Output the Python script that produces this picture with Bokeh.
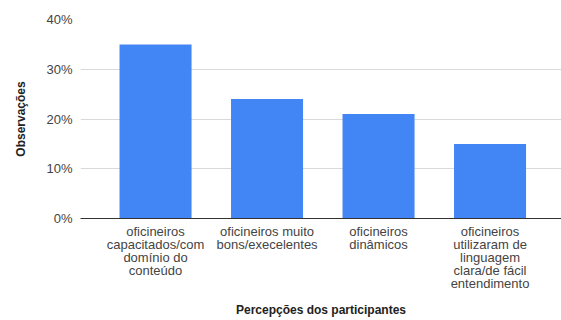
from bokeh.plotting import figure
from bokeh.models import Range1d, FixedTicker, NumeralTickFormatter, ColumnDataSource
from bokeh.embed import file_html
from bokeh.resources import INLINE

# Participant perceptions and share of observations
categories = [
    "oficineiros\ncapacitados/com\ndomínio do\nconteúdo",
    "oficineiros muito\nbons/execelentes",
    "oficineiros\ndinâmicos",
    "oficineiros\nutilizaram de\nlinguagem\nclara/de fácil\nentendimento",
]
shares = [0.35, 0.24, 0.21, 0.15]
y_ticks = [0.0, 0.1, 0.2, 0.3, 0.4]

positions = list(range(1, len(categories) + 1))
source = ColumnDataSource(data=dict(x=positions, top=shares))

FONT = "Liberation Sans"

p = figure(
    width=561, height=320,
    output_backend="svg", toolbar_location=None,
    x_range=Range1d(0.327, 4.641), y_range=Range1d(0, 0.4),
    min_border_left=80, min_border_right=0,
    min_border_top=19, min_border_bottom=102,
)
p.outline_line_color = None
p.background_fill_color = "white"
p.border_fill_color = "white"

p.vbar(x="x", top="top", bottom=0, width=0.646, source=source,
       fill_color="#4285F4", line_color=None)

# y axis
p.yaxis.ticker = FixedTicker(ticks=y_ticks)
p.yaxis.formatter = NumeralTickFormatter(format="0%")
p.yaxis.axis_line_color = None
p.yaxis.major_tick_line_color = None
p.yaxis.minor_tick_line_color = None
p.yaxis.major_tick_out = 0
p.yaxis.major_tick_in = 0
p.yaxis.major_label_standoff = 8
p.yaxis.major_label_text_font = FONT
p.yaxis.major_label_text_font_size = "13px"
p.yaxis.major_label_text_color = "#444444"
p.yaxis.axis_label = "Observações"
p.yaxis.axis_label_text_font = FONT
p.yaxis.axis_label_text_font_size = "12px"
p.yaxis.axis_label_text_font_style = "bold"
p.yaxis.axis_label_text_color = "#222222"
p.yaxis.axis_label_standoff = 15

# x axis
p.xaxis.ticker = FixedTicker(ticks=positions)
p.xaxis.major_label_overrides = {pos: lab for pos, lab in zip(positions, categories)}
p.xaxis.axis_line_color = "#333333"
p.xaxis.axis_line_width = 1
p.xaxis.major_tick_line_color = None
p.xaxis.minor_tick_line_color = None
p.xaxis.major_tick_out = 0
p.xaxis.major_tick_in = 0
p.xaxis.major_label_standoff = 5
p.xaxis.major_label_text_font = FONT
p.xaxis.major_label_text_font_size = "13px"
p.xaxis.major_label_text_color = "#444444"
p.xaxis.major_label_text_line_height = 0.88
p.xaxis.axis_label = "Percepções dos participantes"
p.xaxis.axis_label_text_font = FONT
p.xaxis.axis_label_text_font_size = "12px"
p.xaxis.axis_label_text_font_style = "bold"
p.xaxis.axis_label_text_color = "#222222"
p.xaxis.axis_label_standoff = 9

p.xgrid.grid_line_color = None
p.ygrid.ticker = FixedTicker(ticks=y_ticks)
p.ygrid.grid_line_color = "#d9d9d9"
p.ygrid.grid_line_width = 1

open("out.html", "w").write(file_html(p, INLINE))
